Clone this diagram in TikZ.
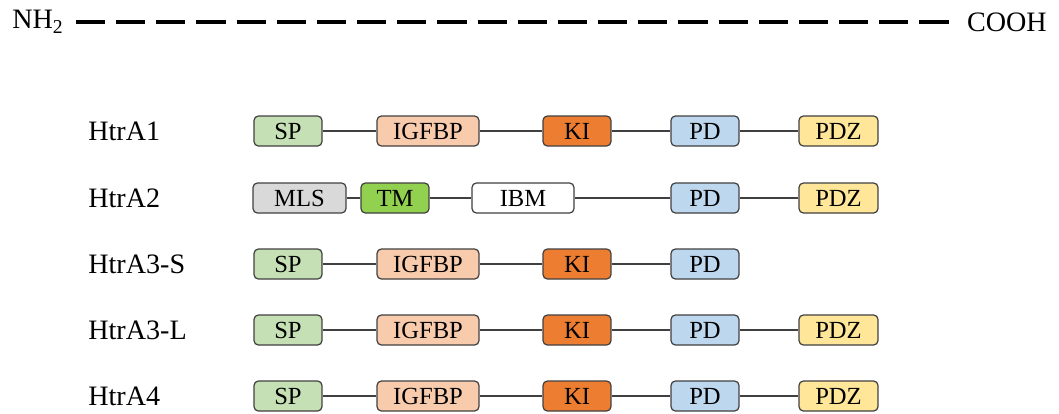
\documentclass[tikz,border=0pt]{standalone}
\usepackage{fontspec}
\setmainfont{Liberation Serif}
\definecolor{spgreen}{HTML}{C5E0B4}
\definecolor{igfbporange}{HTML}{F8CBAD}
\definecolor{kiorange}{HTML}{ED7D31}
\definecolor{pdblue}{HTML}{BDD7EE}
\definecolor{pdzyellow}{HTML}{FFE699}
\definecolor{mlsgray}{HTML}{D9D9D9}
\definecolor{tmgreen}{HTML}{92D050}
\definecolor{edgegray}{HTML}{404040}
\begin{document}
\begin{tikzpicture}[x=0.02cm, y=-0.02cm,
				every node/.style={ text=black, inner sep=0pt,
						font=\fontsize{16}{18}\selectfont },
				dombox/.style={ draw=edgegray, line width=0.7pt, rounded corners=2.5pt,
						minimum height=0.6cm, font=\fontsize{14}{16}\selectfont },
				shortbox/.style={ dombox, minimum width=1.36cm },
				longbox/.style={ dombox, minimum width=2.04cm },
				pdzbox/.style={ dombox, minimum width=1.58cm, fill=pdzyellow },
				linker/.style={ draw=edgegray, line width=0.6pt } ]

			\useasboundingbox (0,0) rectangle (1059,413);

			% termini
			\node[anchor=west] (nh2) at (12,22) {NH\textsubscript{2}};
			\node[anchor=east] (cooh) at (1047,22) {COOH};
			\draw[line width=2.6pt, dash pattern=on 16.56pt off 6.3pt,
				shorten <=6.8pt, shorten >=7pt] (nh2) -- (cooh);

			% row labels
			\node[anchor=west] (h1) at (88,131) {HtrA1};
			\node[anchor=west] (h2) at (88,198) {HtrA2};
			\node[anchor=west] (h3s) at (88,264) {HtrA3-S};
			\node[anchor=west] (h3l) at (88,330) {HtrA3-L};
			\node[anchor=west] (h4) at (88,396) {HtrA4};

			% HtrA1
			\node[shortbox, fill=spgreen] (sp1) at (288,131) {SP};
			\node[longbox, fill=igfbporange] (igfbp1) at (428,131) {IGFBP};
			\node[shortbox, fill=kiorange] (ki1) at (577,131) {KI};
			\node[shortbox, fill=pdblue] (pd1) at (705,131) {PD};
			\node[pdzbox] (pdz1) at (838.5,131) {PDZ};

			% HtrA2
			\node[dombox, minimum width=1.86cm, fill=mlsgray] (mls2) at (299.5,198) {MLS};
			\node[shortbox, fill=tmgreen] (tm2) at (395,198) {TM};
			\node[longbox, fill=white] (ibm2) at (523,198) {IBM};
			\node[shortbox, fill=pdblue] (pd2) at (705,198) {PD};
			\node[pdzbox] (pdz2) at (838.5,198) {PDZ};

			% HtrA3-S
			\node[shortbox, fill=spgreen] (sp3s) at (288,264) {SP};
			\node[longbox, fill=igfbporange] (igfbp3s) at (428,264) {IGFBP};
			\node[shortbox, fill=kiorange] (ki3s) at (577,264) {KI};
			\node[shortbox, fill=pdblue] (pd3s) at (705,264) {PD};

			% HtrA3-L
			\node[shortbox, fill=spgreen] (sp3l) at (288,330) {SP};
			\node[longbox, fill=igfbporange] (igfbp3l) at (428,330) {IGFBP};
			\node[shortbox, fill=kiorange] (ki3l) at (577,330) {KI};
			\node[shortbox, fill=pdblue] (pd3l) at (705,330) {PD};
			\node[pdzbox] (pdz3l) at (838.5,330) {PDZ};

			% HtrA4
			\node[shortbox, fill=spgreen] (sp4) at (288,396) {SP};
			\node[longbox, fill=igfbporange] (igfbp4) at (428,396) {IGFBP};
			\node[shortbox, fill=kiorange] (ki4) at (577,396) {KI};
			\node[shortbox, fill=pdblue] (pd4) at (705,396) {PD};
			\node[pdzbox] (pdz4) at (838.5,396) {PDZ};

			\draw[linker] (sp1) -- (igfbp1) -- (ki1) -- (pd1) -- (pdz1);
			\draw[linker] (mls2) -- (tm2) -- (ibm2) -- (pd2) -- (pdz2);
			\draw[linker] (sp3s) -- (igfbp3s) -- (ki3s) -- (pd3s);
			\draw[linker] (sp3l) -- (igfbp3l) -- (ki3l) -- (pd3l) -- (pdz3l);
			\draw[linker] (sp4) -- (igfbp4) -- (ki4) -- (pd4) -- (pdz4);
		\end{tikzpicture}
\end{document}
